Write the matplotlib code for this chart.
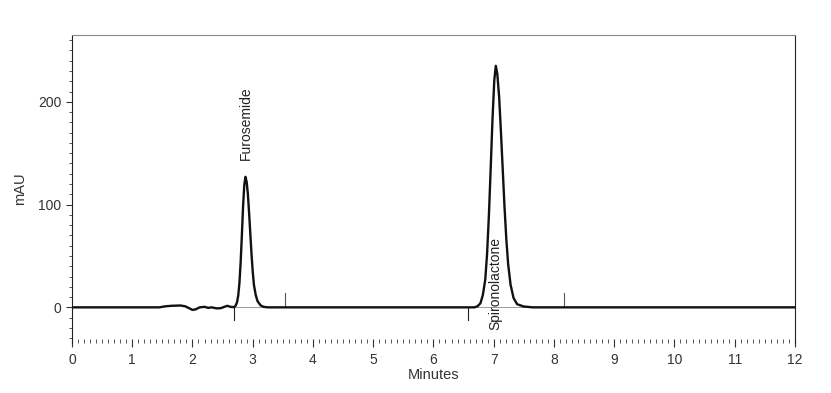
import numpy as np
import matplotlib.pyplot as plt
from matplotlib.ticker import MultipleLocator

plt.rcParams['font.family'] = ['Liberation Sans', 'DejaVu Sans']

# chromatogram trace (minutes, mAU)
time = [0.0, 1.45, 1.55, 1.65, 1.8, 1.88, 1.95, 2.0, 2.05, 2.12, 2.2, 2.26, 2.32,
        2.4, 2.47, 2.53, 2.58, 2.63, 2.68,
        2.70, 2.72, 2.74, 2.76, 2.78, 2.80, 2.82, 2.84, 2.86, 2.88,
        2.90, 2.92, 2.94, 2.96, 2.98, 3.00, 3.02, 3.05, 3.08, 3.13, 3.18, 3.25,
        6.68, 6.73, 6.78, 6.82, 6.86, 6.89, 6.92, 6.95, 6.98, 7.01, 7.035,
        7.06, 7.09, 7.12, 7.15, 7.18, 7.21, 7.24, 7.28, 7.33, 7.39, 7.50, 7.65, 12.0]
mau = [0.0, 0.0, 1.0, 1.5, 1.8, 1.0, -1.0, -2.5, -2.0, 0.0, 0.5, -0.5, 0.0,
       -1.0, -0.8, 0.5, 1.5, 0.5, 0.2,
       0.5, 2.0, 5.0, 11.5, 24.0, 44.0, 70.0, 98.0, 119.0, 127.0,
       122.0, 110.0, 92.0, 72.0, 52.0, 35.0, 22.0, 12.0, 6.0, 2.0, 0.5, 0.0,
       0.0, 1.0, 4.0, 12.0, 27.0, 52.0, 89.0, 135.0, 183.0, 221.0, 235.0,
       227.0, 205.0, 171.0, 134.0, 97.0, 66.0, 42.0, 22.0, 9.0, 3.0, 0.8, 0.0, 0.0]

# integration markers (minutes, start/end)
peak_starts = [2.69, 6.58]
peak_ends = [3.53, 8.17]
peak_names = ['Furosemide', 'Spironolactone']
peak_label_x = [2.88, 7.03]
peak_label_y = [143, -22]

fig = plt.figure(figsize=(8.31, 3.93), dpi=100)
ax = fig.add_axes([0.0866, 0.1272, 0.87, 0.7838])

ax.plot(time, mau, color='#111111', lw=1.7, zorder=3)

for s, e in zip(peak_starts, peak_ends):
    ax.plot([s, e], [0.4, 0.4], color='#999999', lw=0.7, zorder=2)
    ax.plot([s, s], [0, -12], color='#222222', lw=0.8)
    ax.plot([e, e], [0, 14], color='#555555', lw=0.8)

ax.text(peak_label_x[0], peak_label_y[0], peak_names[0], rotation=90,
        ha='center', va='bottom', fontsize=10, color='#222222')
ax.text(peak_label_x[1], peak_label_y[1], peak_names[1], rotation=90,
        ha='center', va='bottom', fontsize=10, color='#222222')

ax.set_xlim(0, 12)
ax.set_ylim(-34.7, 265)
ax.xaxis.set_major_locator(MultipleLocator(1))
ax.xaxis.set_minor_locator(MultipleLocator(0.1))
ax.yaxis.set_major_locator(MultipleLocator(100))
ax.yaxis.set_minor_locator(MultipleLocator(10))

ax.spines['bottom'].set_visible(False)
ax.spines['top'].set_color('#888888')
ax.spines['left'].set_color('#222222')
ax.spines['right'].set_color('#222222')

ax.tick_params(axis='x', which='major', direction='inout', length=6, width=0.8,
               color='#333333', labelsize=10, labelcolor='#333333', pad=4)
ax.tick_params(axis='x', which='minor', direction='in', length=3, width=0.7, color='#555555')
ax.tick_params(axis='y', which='major', direction='out', length=4, width=0.8,
               color='#333333', labelsize=10, labelcolor='#333333')
ax.tick_params(axis='y', which='minor', direction='out', length=2, width=0.7, color='#555555')

ax.set_xlabel('Minutes', fontsize=10.5, color='#333333', labelpad=1)
ax.set_ylabel('mAU', fontsize=10.5, color='#333333', labelpad=8)

fig.savefig('out.png', dpi=100)
